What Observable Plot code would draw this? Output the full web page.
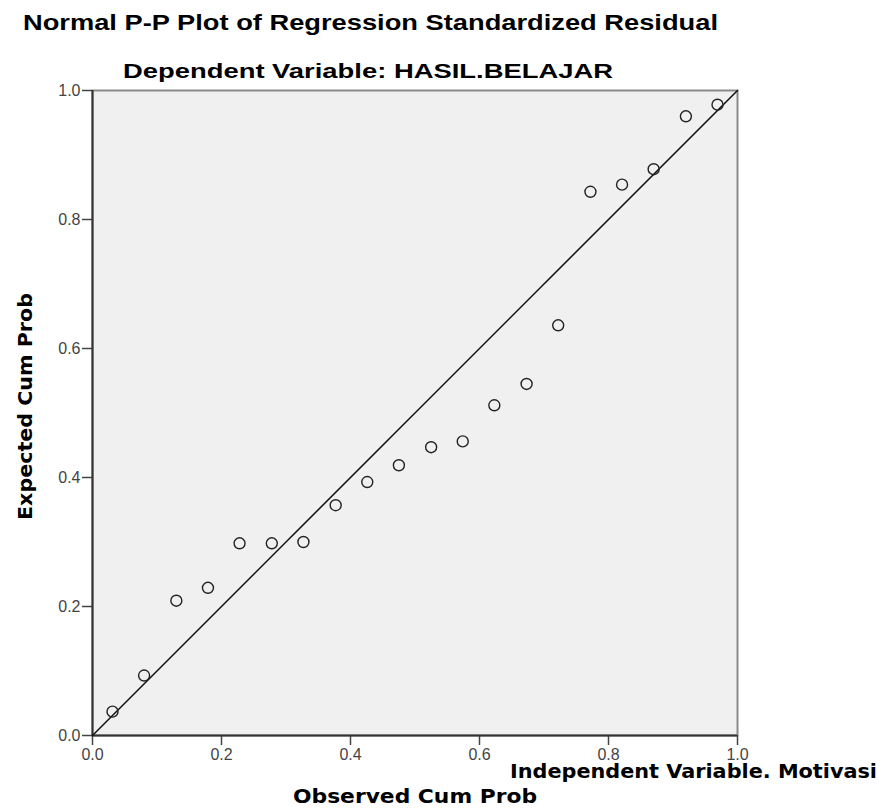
<!DOCTYPE html>
<html>
<head>
<meta charset="utf-8">
<script src="https://cdn.jsdelivr.net/npm/d3@7"></script>
<script src="https://cdn.jsdelivr.net/npm/@observablehq/plot@0.6"></script>
<style>
  html, body { margin: 0; padding: 0; background: #fff; }
  #chart svg { display: block; }
</style>
</head>
<body>
<div id="chart"></div>
<script>
// Observed cumulative probability (x) and expected cumulative probability (y)
const observedCumProb = [0.031, 0.080, 0.130, 0.179, 0.228, 0.278, 0.327, 0.377, 0.426, 0.475,
                         0.525, 0.574, 0.623, 0.673, 0.722, 0.772, 0.821, 0.870, 0.920, 0.969];
const expectedCumProb = [0.037, 0.093, 0.209, 0.229, 0.298, 0.298, 0.300, 0.357, 0.393, 0.419,
                         0.447, 0.456, 0.512, 0.545, 0.636, 0.843, 0.854, 0.878, 0.960, 0.978];
const tickValues = [0, 0.2, 0.4, 0.6, 0.8, 1.0];
const referenceLine = [0, 1];

const titleText = "Normal P-P Plot of Regression Standardized Residual";
const subtitleText = "Dependent Variable: HASIL.BELAJAR";
const xLabelText = "Observed Cum Prob";
const yLabelText = "Expected Cum Prob";
const noteText = "Independent Variable. Motivasi";

const points = observedCumProb.map((x, i) => ({x, y: expectedCumProb[i]}));

const W = 889, H = 810;
const plot = Plot.plot({
  width: W,
  height: H,
  marginLeft: 92,
  marginRight: 152,
  marginTop: 90,
  marginBottom: 75,
  style: {fontFamily: "'Liberation Sans', Arial, sans-serif", fontSize: "16px", background: "#fff", overflow: "visible"},
  x: {domain: [0, 1]},
  y: {domain: [0, 1]},
  marks: [
    Plot.frame({fill: "#f0f0f0"}),
    Plot.frame({stroke: "#8a8a8a", strokeWidth: 2}),
    Plot.axisX({ticks: tickValues, tickSize: 10, tickPadding: 3, tickFormat: d3.format(".1f"), label: null, fontSize: 16, color: "#444", stroke: "#444", strokeWidth: 1.5}),
    Plot.axisY({ticks: tickValues, tickSize: 10, tickPadding: 2, tickFormat: d3.format(".1f"), label: null, fontSize: 16, color: "#444", stroke: "#444", strokeWidth: 1.5}),
    Plot.ruleX([0], {stroke: "#333", strokeWidth: 2}),
    Plot.ruleY([0], {stroke: "#333", strokeWidth: 2}),
    Plot.line(referenceLine, {x: d => d, y: d => d, stroke: "#111", strokeWidth: 1.5}),
    Plot.dot(points, {x: "x", y: "y", r: 5.5, stroke: "#222", strokeWidth: 1.4, fill: "none"})
  ]
});

document.getElementById("chart").appendChild(plot);

const svg = d3.select(plot);
const boldSans = "'Liberation Sans', Arial, sans-serif";
const boldDeja = "'DejaVu Sans', Verdana, sans-serif";

function addText(x, y, txt, family, size, len, transform) {
  const t = svg.append("text")
    .attr("x", x).attr("y", y)
    .attr("text-anchor", "start")
    .attr("font-family", family).attr("font-weight", "bold").attr("font-size", size)
    .attr("textLength", len).attr("lengthAdjust", "spacingAndGlyphs")
    .attr("fill", "#000")
    .text(txt);
  if (transform) t.attr("transform", transform);
  return t;
}

addText(23, 30, titleText, boldSans, 22, 695);
addText(123, 78, subtitleText, boldSans, 21, 490);
addText(293, 803, xLabelText, boldDeja, 20, 244);
addText(510, 778, noteText, boldDeja, 20, 367);
addText(0, 0, yLabelText, boldDeja, 20, 227, "translate(32,520) rotate(-90)");
</script>
</body>
</html>
